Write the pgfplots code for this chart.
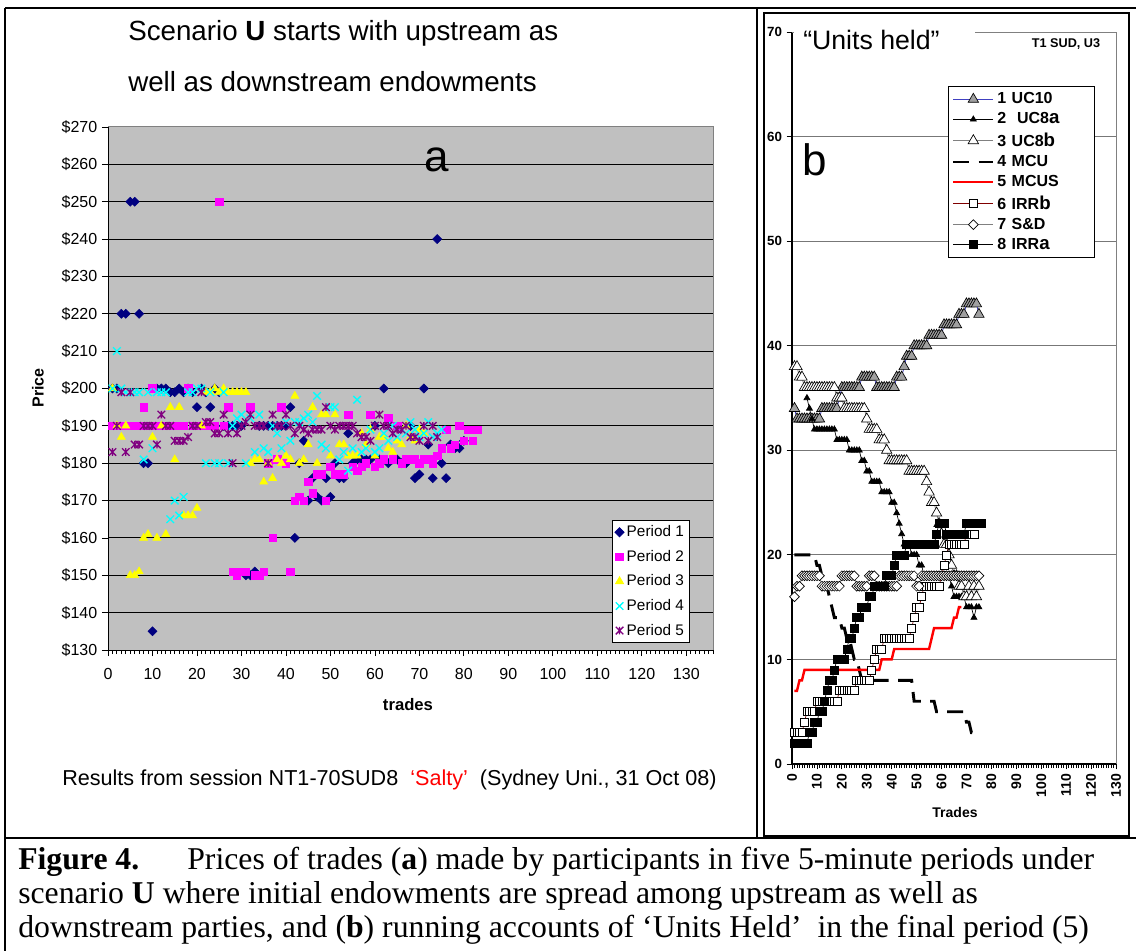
\documentclass[border=0pt]{standalone}
\usepackage{pgfplots}
\pgfplotsset{compat=1.18}
\usepackage{fontspec}
\setmainfont{Liberation Sans}
\newfontfamily\timesfont{Liberation Serif}
\definecolor{plotgray}{HTML}{C0C0C0}
\definecolor{pnavy}{HTML}{000080}
\definecolor{pmag}{HTML}{FF00FF}
\definecolor{pyel}{HTML}{FFFF00}
\definecolor{pcyan}{HTML}{00FFFF}
\definecolor{ppur}{HTML}{800080}
\definecolor{gridb}{HTML}{777777}
\definecolor{ucblue}{HTML}{4040C0}
\definecolor{irrbred}{HTML}{800000}
\definecolor{trifill}{HTML}{A0A0A0}
\pgfdeclareplotmark{xstar}{%
\pgfpathmoveto{\pgfqpoint{-0.7071\pgfplotmarksize}{-0.7071\pgfplotmarksize}}%
\pgfpathlineto{\pgfqpoint{0.7071\pgfplotmarksize}{0.7071\pgfplotmarksize}}%
\pgfpathmoveto{\pgfqpoint{-0.7071\pgfplotmarksize}{0.7071\pgfplotmarksize}}%
\pgfpathlineto{\pgfqpoint{0.7071\pgfplotmarksize}{-0.7071\pgfplotmarksize}}%
\pgfpathmoveto{\pgfqpoint{0pt}{-0.7071\pgfplotmarksize}}%
\pgfpathlineto{\pgfqpoint{0pt}{0.7071\pgfplotmarksize}}%
\pgfusepathqstroke}
\begin{document}
\begin{tikzpicture}
\useasboundingbox (0,0) rectangle (852pt,713.25pt);
\fill[white] (0,0) rectangle (852pt,713.25pt);

% ---------------- Panel a ----------------
\begin{axis}[
  at={(81pt,225.75pt)}, anchor=south west, scale only axis,
  width=453.75pt, height=392.25pt,
  xmin=0, xmax=136, ymin=130, ymax=270,
  axis lines=left, axis line style={-, black, line width=0.75pt},
  axis background/.style={fill=plotgray},
  ymajorgrids, grid style={black, line width=0.75pt},
  xtick={0,10,...,130}, minor xtick={0,1,...,136},
  ytick={130,140,...,270},
  yticklabels={\$130,\$140,\$150,\$160,\$170,\$180,\$190,\$200,\$210,\$220,\$230,\$240,\$250,\$260,\$270},
  tick align=outside, major tick length=4.5pt, minor tick length=3pt,
  tick style={black, line width=0.6pt},
  /pgf/number format/assume math mode=true,
  ticklabel style={font=\fontsize{12}{14}\selectfont},
  xticklabel style={yshift=-6pt},
  clip=false,
  legend style={at={(0.833,0.2486)}, anchor=north west, draw=black, fill=white,
    font=\fontsize{11.5}{13}\selectfont, inner sep=2pt, row sep=4.6pt, line width=0.6pt},
  legend cell align=left,
  legend image code/.code={\draw[#1] plot coordinates {(7pt,0pt)};},
]
\addplot[only marks, mark=square*, mark size=2.4pt, color=pnavy, mark options={rotate=45, fill=pnavy, draw=pnavy}] coordinates {
(1,200)(2,200)(3,220)(4,220)(5,250)(6,250)(7,220)(8,180)(9,180)(10,135)(11,200)(12,200)(13,200)(14,199)(15,199)(16,200)(17,199)(18,200)(19,199)(20,195)(21,200)(22,199)(23,195)(24,200)(25,199)(26,190)(27,190)(28,190)(29,190)(30,190)(31,150)(32,150)(33,151)(34,190)(35,190)(36,190)(37,190)(38,190)(39,190)(40,190)(41,195)(42,160)(43,180)(44,186)(45,170)(46,176)(47,171)(48,170)(49,176)(50,171)(51,180)(52,176)(53,176)(54,188)(55,180)(56,181)(57,181)(58,181)(59,181)(60,190)(61,181)(62,200)(63,180)(64,181)(65,181)(66,180)(67,180)(68,190)(69,176)(70,177)(71,200)(72,185)(73,176)(74,240)(75,180)(76,176)(77,185)(78,184)(79,184)(80,186)};
\addlegendentry{Period 1}
\addplot[only marks, mark=square*, mark size=2.8pt, color=pmag, mark options={fill=pmag, draw=pmag}] coordinates {
(1,190)(2,190)(3,190)(4,190)(5,190)(6,190)(7,190)(8,195)(9,190)(10,200)(11,190)(12,190)(13,190)(14,190)(15,190)(16,190)(17,190)(18,200)(19,190)(20,190)(21,190)(22,190)(23,190)(24,190)(25,250)(26,190)(27,195)(28,151)(29,150)(30,151)(31,151)(32,195)(33,150)(34,150)(35,151)(36,180)(37,160)(38,181)(39,195)(40,180)(41,151)(42,170)(43,171)(44,170)(45,175)(46,172)(47,177)(48,177)(49,170)(50,179)(51,177)(52,177)(53,177)(54,193)(55,179)(56,178)(57,179)(58,180)(59,193)(60,179)(61,180)(62,181)(63,192)(64,181)(65,190)(66,180)(67,181)(68,181)(69,181)(70,180)(71,181)(72,181)(73,180)(74,182)(75,184)(76,189)(77,184)(78,185)(79,190)(80,186)(81,189)(82,186)(83,189)};
\addlegendentry{Period 2}
\addplot[only marks, mark=triangle*, mark size=3.5pt, color=pyel, mark options={fill=pyel, draw=pyel}] coordinates {
(1,200)(2,190)(3,187)(4,190)(5,150)(6,150)(7,151)(8,160)(9,161)(10,187)(11,160)(12,190)(13,161)(14,195)(15,181)(16,195)(17,166)(18,166)(19,166)(20,168)(21,190)(22,199)(23,199)(24,200)(25,199)(26,200)(27,199)(28,199)(29,199)(30,199)(31,199)(32,180)(33,181)(34,181)(35,175)(36,180)(37,176)(38,181)(39,180)(40,182)(41,181)(42,198)(43,180)(44,181)(45,185)(46,195)(47,180)(48,193)(49,193)(50,182)(51,193)(52,185)(53,185)(54,182)(55,182)(56,182)(57,188)(58,185)(59,189)(60,182)(61,187)(62,187)(63,184)(64,183)(65,186)(66,185)(67,190)(68,187)(69,186)(70,189)(71,188)};
\addlegendentry{Period 3}
\addplot[only marks, mark=x, mark size=4pt, color=pcyan, mark options={line width=1pt}] coordinates {
(1,200)(2,210)(3,200)(4,199)(5,199)(6,199)(7,199)(8,181)(9,199)(10,184)(11,199)(12,199)(13,199)(14,165)(15,170)(16,166)(17,171)(18,199)(19,199)(20,200)(21,200)(22,180)(23,199)(24,180)(25,180)(26,199)(27,180)(28,190)(29,192)(30,193)(31,180)(32,192)(33,183)(34,193)(35,184)(36,183)(37,190)(38,188)(39,184)(40,191)(41,186)(42,191)(43,191)(44,192)(45,193)(46,191)(47,198)(48,185)(49,184)(50,195)(51,195)(52,181)(53,183)(54,178)(55,184)(56,197)(57,183)(58,184)(59,189)(60,183)(61,184)(62,188)(63,186)(64,190)(65,187)(66,189)(67,188)(68,191)(69,189)(70,187)(71,188)(72,191)(73,187)(74,188)(75,189)};
\addlegendentry{Period 4}
\addplot[only marks, mark=xstar, mark size=4pt, color=ppur, mark options={line width=1pt}] coordinates {
(1,183)(2,190)(3,199)(4,183)(5,199)(6,185)(7,185)(8,190)(9,190)(10,190)(11,185)(12,193)(13,190)(14,190)(15,186)(16,186)(17,186)(18,187)(19,190)(20,190)(21,199)(22,191)(23,191)(24,188)(25,188)(26,193)(27,188)(28,180)(29,188)(30,190)(31,191)(32,193)(33,190)(34,190)(35,190)(36,180)(37,193)(38,190)(39,190)(40,193)(41,190)(42,188)(43,190)(44,189)(45,188)(46,189)(47,189)(48,189)(49,195)(50,190)(51,189)(52,190)(53,190)(54,190)(55,190)(56,188)(57,187)(58,187)(59,186)(60,190)(61,193)(62,190)(63,190)(64,188)(65,189)(66,189)(67,190)(68,187)(69,187)(70,186)(71,190)(72,186)(73,190)(74,187)};
\addlegendentry{Period 5}
\draw[color=gray, line width=0.75pt] (rel axis cs:0,1) -- (rel axis cs:1,1) -- (rel axis cs:1,0);
\end{axis}

% ---------------- Panel b ----------------
\begin{axis}[
  at={(594pt,140.25pt)}, anchor=south west, scale only axis,
  width=243pt, height=549pt,
  xmin=0, xmax=130, ymin=0, ymax=70,
  axis lines=left, axis line style={-, black, line width=0.9pt},
  ymajorgrids, grid style={gridb, line width=0.75pt},
  xtick={0,10,...,130}, minor xtick={0,1,...,130},
  ytick={0,10,...,70},
  tick align=outside, major tick length=4pt, minor tick length=3pt,
  tick style={black, line width=0.6pt},
  /pgf/number format/assume math mode=true,
  xticklabel style={rotate=90, anchor=east, font=\bfseries\fontsize{10.5}{12}\selectfont},
  yticklabel style={font=\bfseries\fontsize{10}{12}\selectfont},
  clip=false,
  legend style={at={(0.4815,0.926)}, anchor=north west, draw=black, fill=white,
    font=\bfseries\fontsize{12}{14}\selectfont, inner sep=2.5pt, row sep=1.2pt, line width=0.8pt,
    /tikz/every even column/.append style={text width=68pt}},
  legend cell align=left,
  legend image code/.code={\draw[mark repeat=2,mark phase=2,#1] plot coordinates {(0pt,0pt) (15pt,0pt) (30pt,0pt)};},
]
\addplot[color=ucblue, line width=0.6pt, mark=triangle*, mark size=4.5pt, mark options={fill=trifill, draw=black, line width=0.5pt, solid}] coordinates {
(1,34)(2,33)(3,33)(4,33)(5,33)(6,33)(7,33)(8,33)(9,33)(10,33)(11,33)(12,34)(13,34)(14,34)(15,34)(16,34)(17,34)(18,34)(19,35)(20,36)(21,36)(22,36)(23,36)(24,36)(25,36)(26,36)(27,36)(28,37)(29,37)(30,37)(31,37)(32,37)(33,37)(34,36)(35,36)(36,36)(37,36)(38,36)(39,36)(40,36)(41,36)(42,37)(43,37)(44,37)(45,38)(46,39)(47,39)(48,39)(49,40)(50,40)(51,40)(52,40)(53,40)(54,40)(55,41)(56,41)(57,41)(58,41)(59,41)(60,41)(61,42)(62,42)(63,42)(64,42)(65,42)(66,42)(67,43)(68,43)(69,43)(70,44)(71,44)(72,44)(73,44)(74,44)(75,43)};
\addlegendentry{1 UC10}
\addplot[color=black, line width=0.5pt, mark=triangle*, mark size=2.6pt, mark options={fill=black, draw=black, solid}] coordinates {
(6,35)(7,34)(8,33)(9,32)(10,32)(11,32)(12,32)(13,32)(14,32)(15,32)(16,32)(17,32)(18,31)(19,31)(20,31)(21,31)(22,31)(23,30)(24,30)(25,30)(26,30)(27,30)(28,29)(29,29)(30,28)(31,28)(32,27)(33,27)(34,27)(35,27)(36,26)(37,26)(38,26)(39,26)(40,25)(41,25)(42,24)(43,23)(44,22)(45,21)(46,21)(47,21)(48,20)(49,20)(50,20)(51,19)(52,19)(53,18)(54,18)(55,18)(56,18)(57,18)(58,18)(59,18)(60,18)(61,18)(62,18)(63,18)(64,17)(65,16)(66,16)(67,16)(68,16)(69,16)(70,15)(71,15)(72,15)(73,14)(74,15)(75,15)};
\addlegendentry{2\ \ UC8{\fontsize{14}{14}\selectfont a}}
\addplot[color=gray, line width=0.6pt, mark=triangle*, mark size=4.5pt, mark options={fill=white, draw=black, line width=0.5pt, solid}] coordinates {
(1,38)(2,38)(3,37)(4,37)(5,36)(6,36)(7,36)(8,36)(9,36)(10,36)(11,36)(12,36)(13,36)(14,36)(15,36)(16,36)(17,36)(18,35)(19,35)(20,35)(21,34)(22,34)(23,34)(24,34)(25,34)(26,34)(27,34)(28,34)(29,34)(30,33)(31,32)(32,32)(33,32)(34,32)(35,31)(36,31)(37,31)(38,30)(39,29)(40,29)(41,29)(42,29)(43,29)(44,29)(45,29)(46,29)(47,28)(48,28)(49,28)(50,28)(51,28)(52,28)(53,28)(54,27)(55,26)(56,25)(57,25)(58,24)(59,23)(60,22)(61,21)(62,21)(63,20)(64,19)(65,18)(66,18)(67,17)(68,17)(69,16)(70,16)(71,17)(72,16)(73,17)(74,16)(75,17)};
\addlegendentry{3 UC8{\fontsize{14}{14}\selectfont b}}
\addplot[color=black, line width=2.2pt, dash pattern=on 12pt off 7pt] coordinates {
(1,20)(9,20)(10,19)(11,19)(12,18)(13,17)(14,17)(15,16)(16,15)(17,14)(19,14)(20,13)(21,13)(22,12)(23,12)(24,11)(25,10)(26,10)(27,9)(28,8)(48,8)(49,6)(57,6)(58,5)(69,5)(70,4)(71,4)(72,3)(75,3)};
\addlegendentry{4 MCU}
\addplot[color=red, line width=1.8pt] coordinates {
(1,7)(2,7)(3,8)(4,8)(5,9)(35,9)(36,10)(40,10)(41,11)(55,11)(56,12)(57,13)(64,13)(65,14)(66,14)(67,15)(68,15)};
\addlegendentry{5 MCUS}
\addplot[color=irrbred, line width=0.5pt, mark=square*, mark size=3pt, mark options={fill=white, draw=black, line width=0.5pt, solid}] coordinates {
(1,3)(2,3)(3,3)(4,3)(5,4)(6,5)(7,5)(8,5)(9,5)(10,6)(11,6)(12,6)(13,6)(14,6)(15,6)(16,6)(17,6)(18,6)(19,7)(20,7)(21,7)(22,7)(23,7)(24,7)(25,7)(26,8)(27,8)(28,8)(29,8)(30,8)(31,8)(32,9)(33,10)(34,11)(35,11)(36,11)(37,12)(38,12)(39,12)(40,12)(41,12)(42,12)(43,12)(44,12)(45,12)(46,12)(47,12)(48,13)(49,14)(50,15)(51,15)(52,16)(53,17)(54,17)(55,17)(56,17)(57,17)(58,17)(59,17)(60,18)(61,19)(62,20)(63,21)(64,21)(65,21)(66,21)(67,21)(68,21)(69,21)(70,22)(71,22)(72,22)(73,22)};
\addlegendentry{6 IRR{\fontsize{14}{14}\selectfont b}}
\addplot[color=gray, line width=0.6pt, mark=square*, mark size=2.6pt, mark options={rotate=45, fill=white, draw=black, line width=0.5pt, solid}] coordinates {
(1,16)(2,17)(3,17)(4,18)(5,18)(6,18)(7,18)(8,18)(9,18)(10,18)(11,18)(12,17)(13,17)(14,17)(15,17)(16,17)(17,17)(18,17)(19,17)(20,18)(21,18)(22,18)(23,18)(24,18)(25,18)(26,17)(27,17)(28,17)(29,17)(30,17)(31,18)(32,18)(33,18)(34,17)(35,17)(36,17)(37,17)(38,17)(39,17)(40,17)(41,17)(42,17)(43,18)(44,18)(45,18)(46,18)(47,18)(48,18)(49,18)(50,17)(51,17)(52,18)(53,18)(54,18)(55,18)(56,18)(57,18)(58,18)(59,18)(60,18)(61,18)(62,18)(63,18)(64,18)(65,18)(66,18)(67,18)(68,18)(69,18)(70,18)(71,18)(72,18)(73,18)(74,18)(75,18)};
\addlegendentry{7 S\&D}
\addplot[color=black, line width=0.5pt, mark=square*, mark size=3pt, mark options={fill=black, draw=black, solid}] coordinates {
(1,2)(2,2)(3,2)(4,2)(5,2)(6,2)(7,3)(8,3)(9,4)(10,4)(11,5)(12,5)(13,6)(14,7)(15,8)(16,8)(17,9)(18,10)(19,10)(20,10)(21,10)(22,11)(23,12)(24,12)(25,13)(26,14)(27,14)(28,15)(29,15)(30,15)(31,16)(32,16)(33,17)(34,17)(35,17)(36,17)(37,17)(38,18)(39,18)(40,18)(41,19)(42,20)(43,20)(44,20)(45,20)(46,21)(47,21)(48,21)(49,21)(50,21)(51,21)(52,21)(53,21)(54,21)(55,21)(56,21)(57,21)(58,22)(59,23)(60,23)(61,23)(62,22)(63,22)(64,22)(65,22)(66,22)(67,22)(68,22)(69,22)(70,23)(71,23)(72,23)(73,23)(74,23)(75,23)(76,23)};
\addlegendentry{8 IRR{\fontsize{14}{14}\selectfont a}}
\draw[color=gray, line width=0.75pt] (rel axis cs:0,1) -- (rel axis cs:1,1) -- (rel axis cs:1,0);
\end{axis}

% ---------------- texts and frames ----------------
\begin{scope}[x=0.75pt, y=-0.75pt, yshift=713.25pt]
\fill[white] (794,20) rectangle (975,58);
\node[anchor=west, inner sep=0pt] at (803,40) {\fontsize{20}{24}\selectfont “Units held”};
\node[font=\bfseries\fontsize{9.5}{11}\selectfont] at (1066,44) {T1 SUD, U3};
\node at (815,160) {\fontsize{33}{36}\selectfont b};
\node[font=\bfseries\fontsize{10.5}{12}\selectfont] at (955,812) {Trades};

\node[anchor=west, inner sep=0pt] at (128,33) {\fontsize{20.8}{24}\selectfont Scenario \textbf{U} starts with upstream as};
\node[anchor=west, inner sep=0pt] at (128,82) {\fontsize{20.8}{24}\selectfont well as downstream endowments};
\node at (437,160) {\fontsize{33}{36}\selectfont a};
\node[rotate=90, font=\bfseries\fontsize{12}{14}\selectfont] at (38,388) {Price};
\node[font=\bfseries\fontsize{12.5}{14}\selectfont] at (408,705) {trades};
\node[anchor=west, inner sep=0pt] at (62,780) {\fontsize{16.2}{19}\selectfont Results from session NT1-70SUD8\ \ \textcolor{red}{‘Salty’}\ \ (Sydney Uni., 31 Oct 08)};

\node[anchor=west, inner sep=0pt, font=\timesfont\fontsize{23.8}{28}\selectfont] at (18,862) {\textbf{Figure 4.}\hspace{36pt}Prices of trades (\textbf{a}) made by participants in five 5-minute periods under};
\node[anchor=west, inner sep=0pt, font=\timesfont\fontsize{23.8}{28}\selectfont] at (18,896) {scenario \textbf{U} where initial endowments are spread among upstream as well as};
\node[anchor=west, inner sep=0pt, font=\timesfont\fontsize{23.8}{28}\selectfont] at (18,930) {downstream parties, and (\textbf{b}) running accounts of ‘Units Held’\ \ in the final period (5)};

\draw[line width=1.5pt] (5,8) -- (1136,8);
\draw[line width=1.5pt] (5,8) -- (5,951);
\draw[line width=1.5pt] (5,838) -- (1136,838);
\draw[line width=1pt] (757,8) -- (757,838);
\draw[line width=1.1pt] (764,13) rectangle (1129,836);
\end{scope}
\end{tikzpicture}
\end{document}
